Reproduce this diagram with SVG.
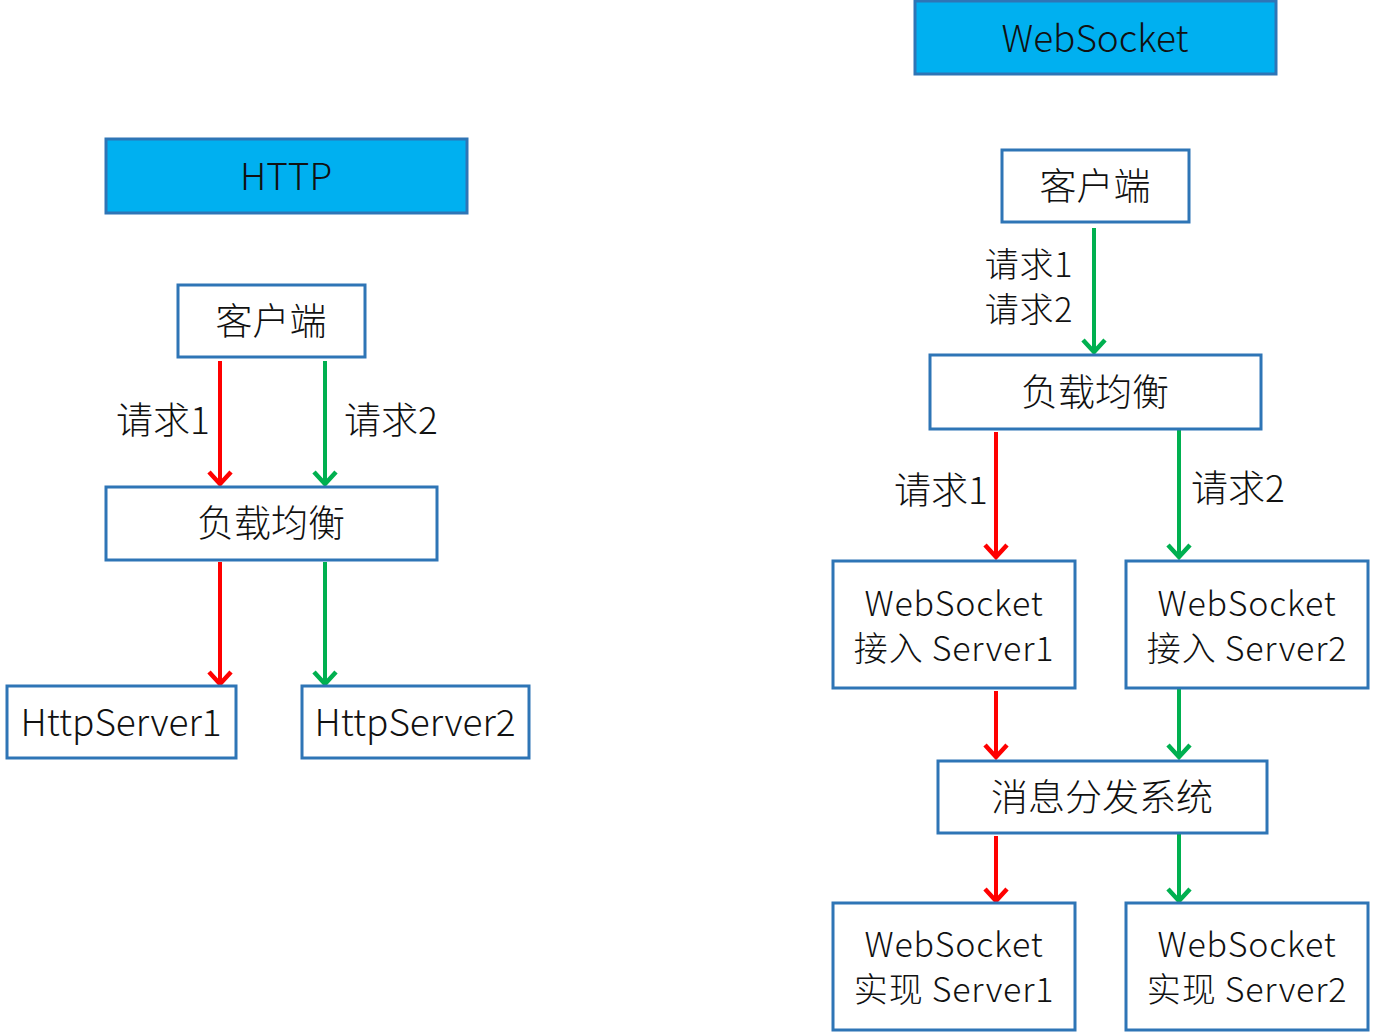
<svg xmlns="http://www.w3.org/2000/svg" width="1374" height="1035" viewBox="0 0 1374 1035">
<defs>
<style>
.box{fill:#fff;stroke:#2E75B6;stroke-width:3}
.title{fill:#00B0F0;stroke:#2E75B6;stroke-width:3}
text{font-family:"Noto Sans CJK SC","Noto Sans",sans-serif;font-weight:300;font-size:37px;fill:#111;text-anchor:middle;dominant-baseline:central}
.two{font-size:34px;letter-spacing:0.8px}
.r{stroke:#FF0000;stroke-width:4;fill:none}
.g{stroke:#00B050;stroke-width:4;fill:none}
</style>
<marker id="mr" markerUnits="userSpaceOnUse" viewBox="-2 -2 16 26" refX="12" refY="11" markerWidth="16" markerHeight="26" orient="auto" overflow="visible">
<path d="M0,0 L12,11 L0,22" fill="none" stroke="#FF0000" stroke-width="4.5"/>
</marker>
<marker id="mg" markerUnits="userSpaceOnUse" viewBox="-2 -2 16 26" refX="12" refY="11" markerWidth="16" markerHeight="26" orient="auto" overflow="visible">
<path d="M0,0 L12,11 L0,22" fill="none" stroke="#00B050" stroke-width="4.5"/>
</marker>
</defs>
<rect width="1374" height="1035" fill="#fff"/>

<g id="connectors">
<line class="r" x1="220" y1="361" x2="220" y2="484" marker-end="url(#mr)"/>
<line class="g" x1="325" y1="361" x2="325" y2="484" marker-end="url(#mg)"/>
<line class="r" x1="220" y1="562" x2="220" y2="684" marker-end="url(#mr)"/>
<line class="g" x1="325" y1="562" x2="325" y2="684" marker-end="url(#mg)"/>
<line class="g" x1="1094" y1="228" x2="1094" y2="352" marker-end="url(#mg)"/>
<line class="r" x1="996" y1="432" x2="996" y2="557" marker-end="url(#mr)"/>
<line class="g" x1="1179" y1="430" x2="1179" y2="557" marker-end="url(#mg)"/>
<line class="r" x1="996" y1="691" x2="996" y2="757" marker-end="url(#mr)"/>
<line class="g" x1="1179" y1="689" x2="1179" y2="757" marker-end="url(#mg)"/>
<line class="r" x1="996" y1="836" x2="996" y2="901" marker-end="url(#mr)"/>
<line class="g" x1="1179" y1="834" x2="1179" y2="901" marker-end="url(#mg)"/>
<text x="163" y="418">请求1</text>
<text x="391" y="418">请求2</text>
<text class="two" x="1029" y="262">请求1</text>
<text class="two" x="1029" y="307">请求2</text>
<text x="941" y="488">请求1</text>
<text x="1238" y="486">请求2</text>
</g>

<g id="http-title"><rect class="title" x="106" y="139" width="361" height="74"/><text x="286" y="174">HTTP</text></g>
<g id="http-client"><rect class="box" x="178" y="285" width="187" height="72"/><text x="271" y="319">客户端</text></g>
<g id="http-lb"><rect class="box" x="106" y="487" width="331" height="73"/><text x="271" y="521">负载均衡</text></g>
<g id="http-server1"><rect class="box" x="7" y="686" width="229" height="72"/><text x="121" y="720">HttpServer1</text></g>
<g id="http-server2"><rect class="box" x="302" y="686" width="227" height="72"/><text x="415" y="720">HttpServer2</text></g>

<g id="ws-title"><rect class="title" x="915" y="1" width="361" height="73"/><text x="1095" y="36">WebSocket</text></g>
<g id="ws-client"><rect class="box" x="1002" y="150" width="187" height="72"/><text x="1095" y="184">客户端</text></g>
<g id="ws-lb"><rect class="box" x="930" y="355" width="331" height="74"/><text x="1095" y="390">负载均衡</text></g>
<g id="ws-access1"><rect class="box" x="833" y="561" width="242" height="127"/><text class="two" x="954" y="601">WebSocket</text><text class="two" x="954" y="646">接入 Server1</text></g>
<g id="ws-access2"><rect class="box" x="1126" y="561" width="242" height="127"/><text class="two" x="1247" y="601">WebSocket</text><text class="two" x="1247" y="646">接入 Server2</text></g>
<g id="ws-dispatch"><rect class="box" x="938" y="761" width="329" height="72"/><text x="1102" y="795">消息分发系统</text></g>
<g id="ws-impl1"><rect class="box" x="833" y="903" width="242" height="127"/><text class="two" x="954" y="942">WebSocket</text><text class="two" x="954" y="987">实现 Server1</text></g>
<g id="ws-impl2"><rect class="box" x="1126" y="903" width="242" height="127"/><text class="two" x="1247" y="942">WebSocket</text><text class="two" x="1247" y="987">实现 Server2</text></g>
</svg>
